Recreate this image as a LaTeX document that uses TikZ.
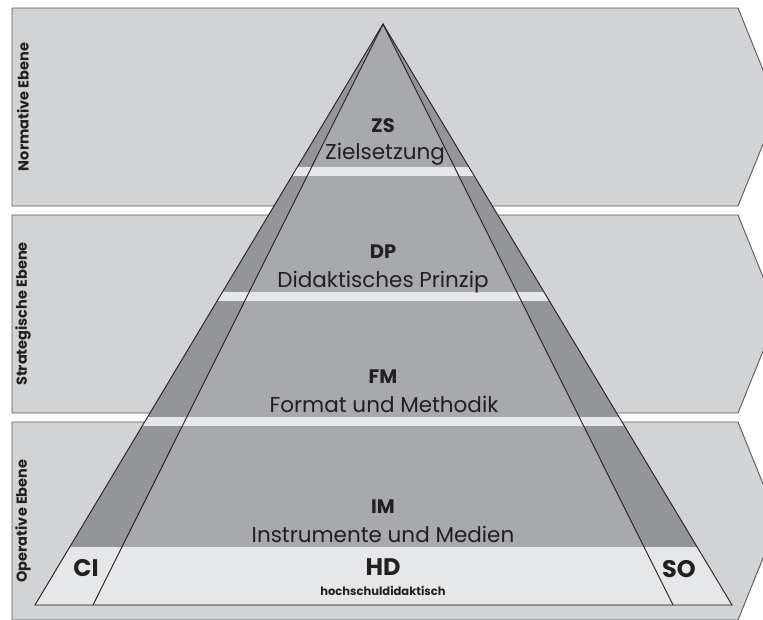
\documentclass[tikz,border=0pt]{standalone}
\usepackage{fontspec}
\setmainfont{Poppins}
\definecolor{ebenegray}{HTML}{D1D3D4}
\definecolor{randgray}{HTML}{939598}
\definecolor{kerngray}{HTML}{A7A9AC}
\definecolor{hellgray}{HTML}{E6E7E8}
\definecolor{textgray}{HTML}{231F20}
\definecolor{rahmengray}{HTML}{58595B}

\begin{document}
\begin{tikzpicture}[x=1pt,y=-1pt,
    ebene/.style={fill=ebenegray,draw=rahmengray,line width=0.9pt},
    ebenetext/.style={rotate=90,text=textgray,font=\fontsize{14.5}{14.5}\selectfont\bfseries},
    kuerzel/.style={anchor=base,text=textgray,font=\fontsize{19.5}{19.5}\selectfont\bfseries},
    langtext/.style={anchor=base,text=textgray,font=\fontsize{21.5}{21.5}\selectfont},
    linie/.style={draw=textgray,line width=0.9pt,line join=miter}]
    \useasboundingbox (0,0) rectangle (763,619);
    \clip (0,0) rectangle (763,619);
    \fill[white] (0,0) rectangle (763,619);
    % Ebenen
    \foreach \y/\name [count=\i] in {8/Normative Ebene,215/Strategische Ebene,422/Operative Ebene}{
        \draw[ebene] (12,\y) -- (738,\y) -- (778,\y+99) -- (738,\y+198) -- (12,\y+198) -- cycle;
        \node[ebenetext] (ebene\i) at (23,\y+99) {\name};
    }
    % Pyramide
    \coordinate (spitze) at (383,24);
    \coordinate (aussenl) at (35,605);
    \coordinate (aussenr) at (732,605);
    \coordinate (innenl) at (93,605);
    \coordinate (innenr) at (673,605);
    \fill[randgray] (spitze) -- (aussenl) -- (aussenr) -- cycle;
    \fill[kerngray] (spitze) -- (innenl) -- (innenr) -- cycle;
    \begin{scope}
        \clip (spitze) -- (aussenl) -- (aussenr) -- cycle;
        \foreach \y in {167,292,417}{
            \fill[hellgray] (0,\y) rectangle (763,\y+8.5);
        }
        \fill[hellgray] (0,547) rectangle (763,605);
    \end{scope}
    \draw[linie] (aussenl) -- (spitze) -- (aussenr) -- cycle;
    \draw[linie] (innenl) -- (spitze) -- (innenr);
    % Beschriftung
    \node[kuerzel] (zs) at (383,132) {ZS};
    \node[langtext] (zsl) at (385,159) {Zielsetzung};
    \node[kuerzel] (dp) at (383,258) {DP};
    \node[langtext] (dpl) at (383,287) {Didaktisches Prinzip};
    \node[kuerzel] (fm) at (383,383) {FM};
    \node[langtext] (fml) at (384,412) {Format und Methodik};
    \node[kuerzel] (im) at (383,513) {IM};
    \node[langtext] (iml) at (383,542) {Instrumente und Medien};
    \node[kuerzel,font=\fontsize{24}{24}\selectfont\bfseries] (hd) at (383,575) {HD};
    \node[kuerzel,font=\fontsize{11.5}{11.5}\selectfont\bfseries] (hdl) at (383,595) {hochschuldidaktisch};
    \node[kuerzel,font=\fontsize{24}{24}\selectfont\bfseries] (ci) at (86,576) {CI};
    \node[kuerzel,font=\fontsize{24}{24}\selectfont\bfseries] (so) at (679,577) {SO};
\end{tikzpicture}
\end{document}
